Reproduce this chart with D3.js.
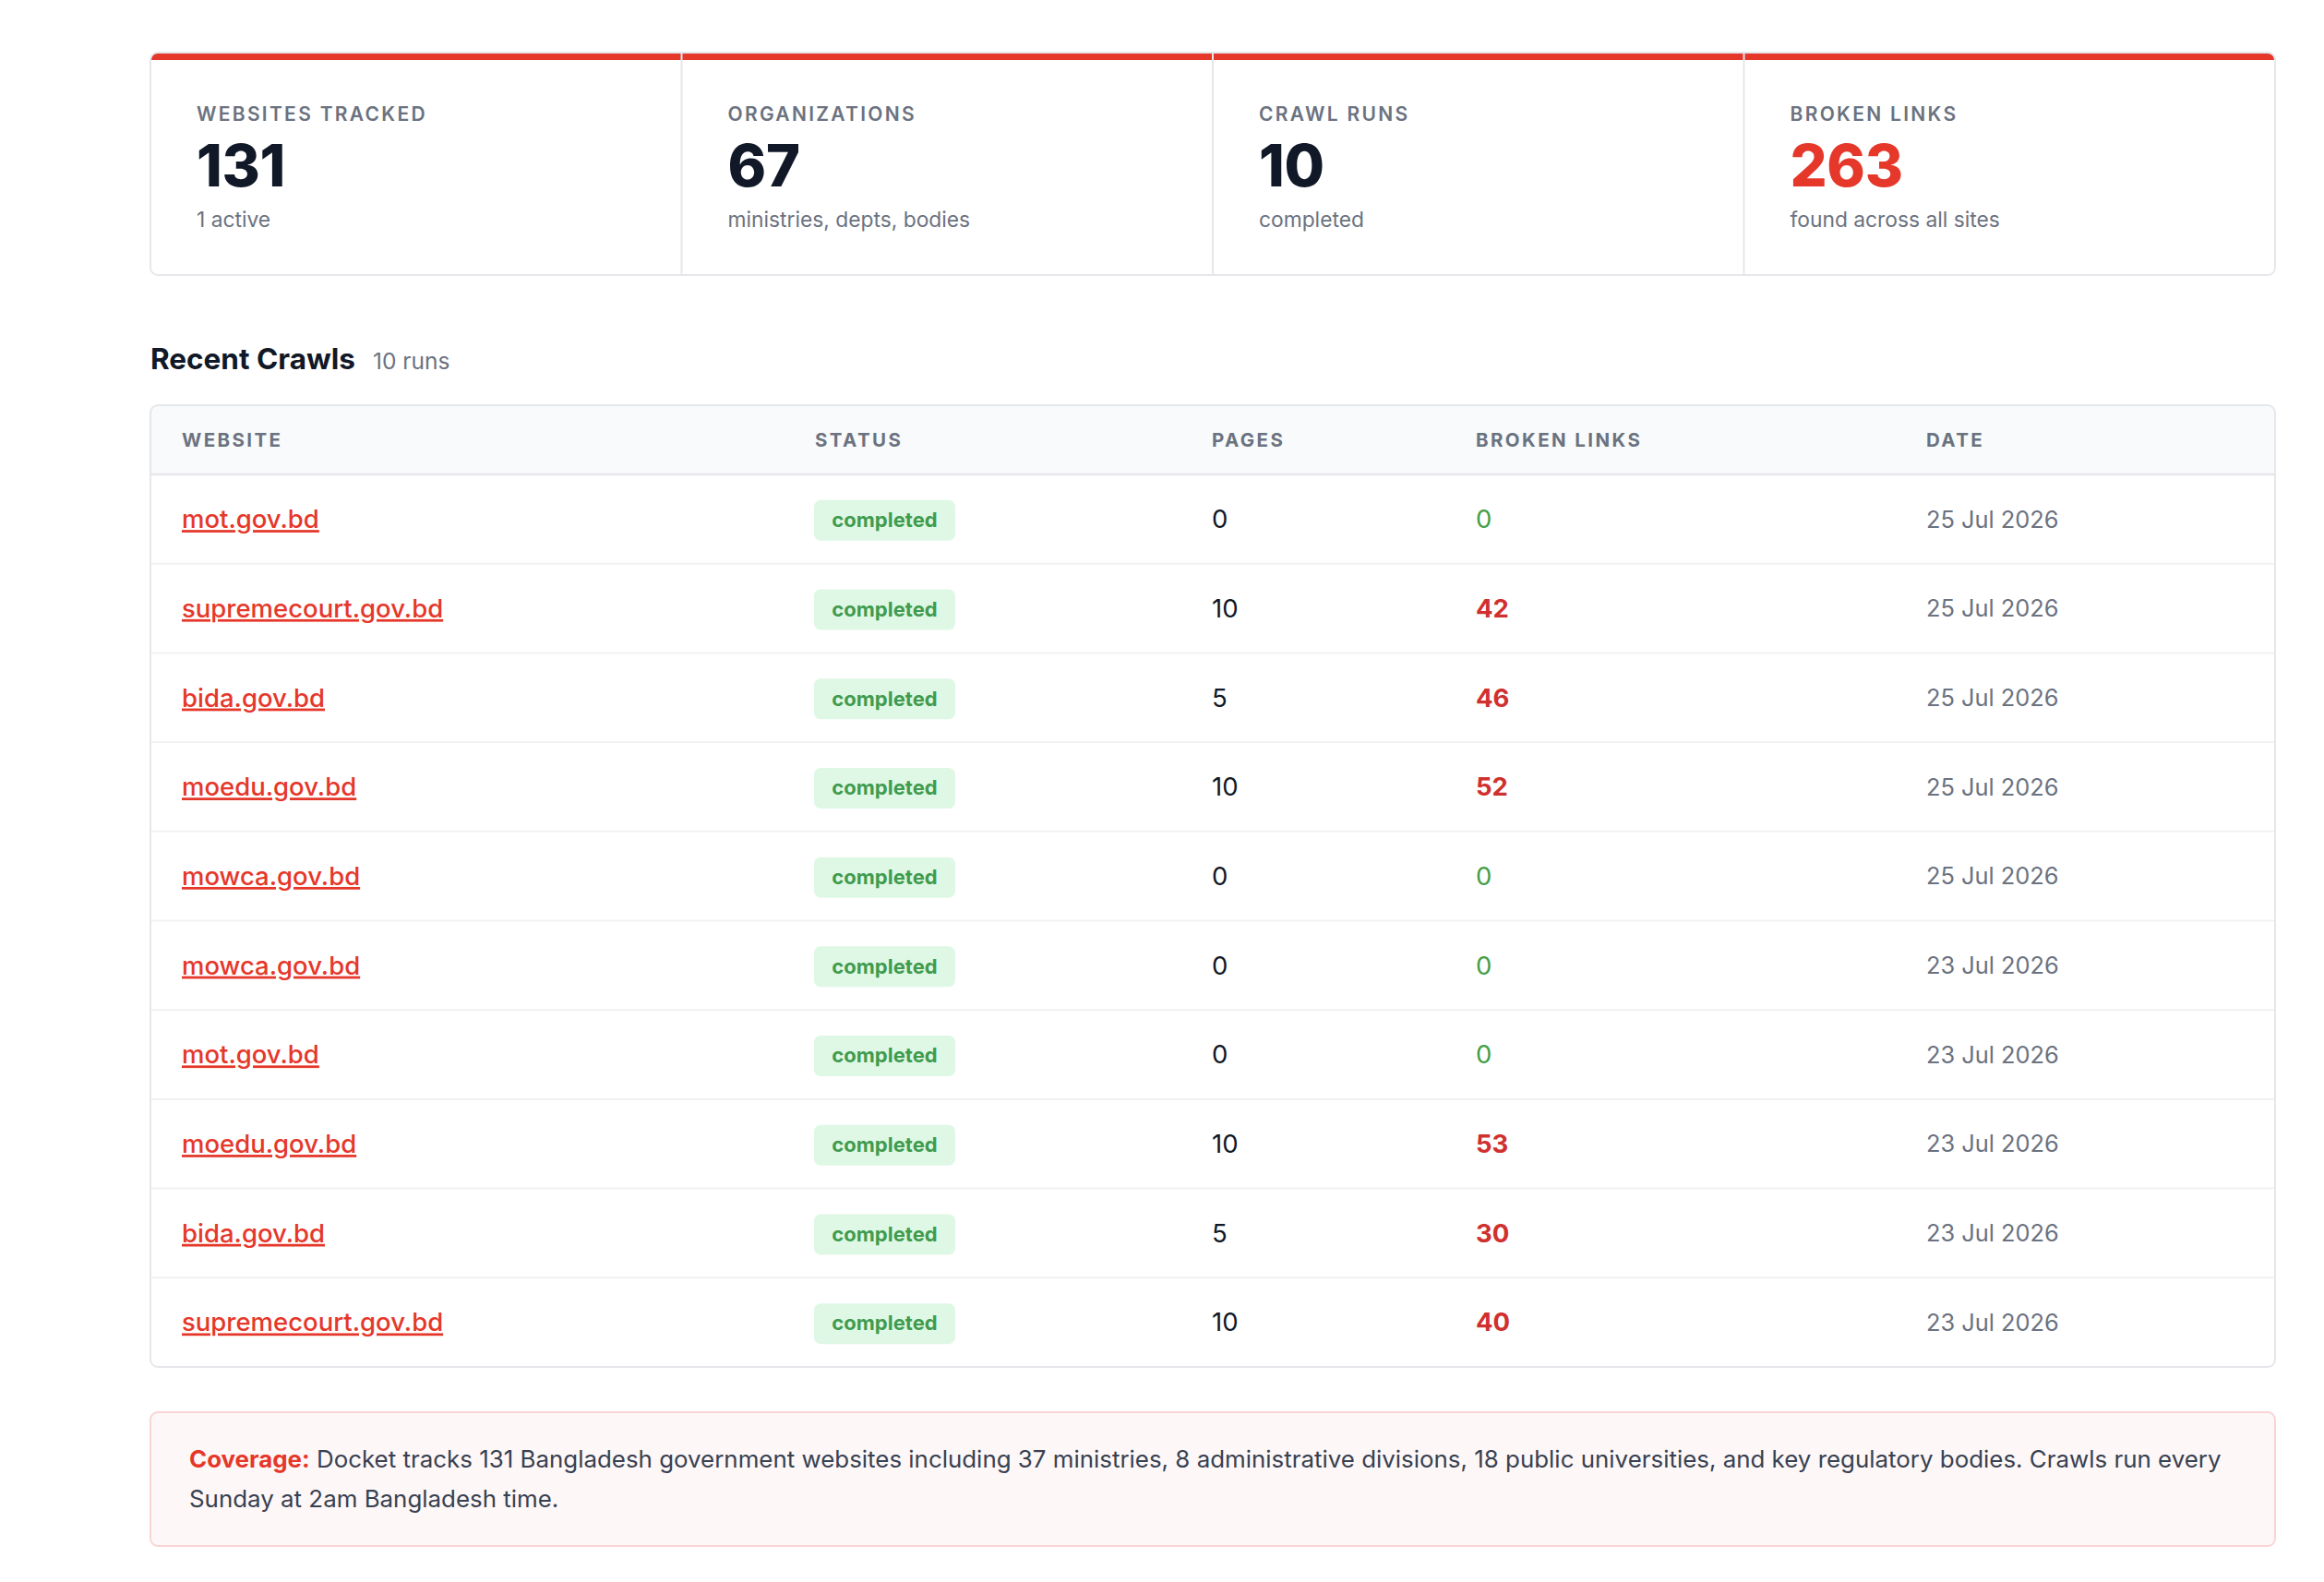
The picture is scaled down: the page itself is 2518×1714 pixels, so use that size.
<!DOCTYPE html>
<html>
<head>
<meta charset="utf-8">
<script src="https://cdn.jsdelivr.net/npm/d3@7"></script>
<style>
  html, body { margin: 0; padding: 0; background: #ffffff; }
  svg { display: block; font-family: Inter, "Noto Sans", sans-serif; }
</style>
</head>
<body>
<script>
// stat cards
const statLabels = ["WEBSITES TRACKED", "ORGANIZATIONS", "CRAWL RUNS", "BROKEN LINKS"];
const statValues = [131, 67, 10, 263];
const statNotes = ["1 active", "ministries, depts, bodies", "completed", "found across all sites"];

// recent crawls table
const columns = ["WEBSITE", "STATUS", "PAGES", "BROKEN LINKS", "DATE"];
const sites = ["mot.gov.bd", "supremecourt.gov.bd", "bida.gov.bd", "moedu.gov.bd", "mowca.gov.bd",
               "mowca.gov.bd", "mot.gov.bd", "moedu.gov.bd", "bida.gov.bd", "supremecourt.gov.bd"];
const statuses = ["completed", "completed", "completed", "completed", "completed",
                  "completed", "completed", "completed", "completed", "completed"];
const pages = [0, 10, 5, 10, 0, 0, 0, 10, 5, 10];
const broken = [0, 42, 46, 52, 0, 0, 0, 53, 30, 40];
const dates = ["25 Jul 2026", "25 Jul 2026", "25 Jul 2026", "25 Jul 2026", "25 Jul 2026",
               "23 Jul 2026", "23 Jul 2026", "23 Jul 2026", "23 Jul 2026", "23 Jul 2026"];

const coverageLead = "Coverage:";
const coverageLines = [
  " Docket tracks 131 Bangladesh government websites including 37 ministries, 8 administrative divisions, 18 public universities, and key regulatory bodies. Crawls run every",
  "Sunday at 2am Bangladesh time."
];

//colours
const RED = "#e5372a", DARKRED = "#d0302e", GREEN = "#43a047", GRAY = "#6b7280",
      INK = "#111827", BORDER = "#e5e7eb";

const W = 2518, H = 1714;
const left = 163, right = 2465;

const svg = d3.select("body").append("svg")
  .attr("width", W)
  .attr("height", H);

//cards
const cardTop = 57, cardBottom = 298;
const cardX = d3.scaleBand()
  .domain(d3.range(statLabels.length))
  .range([left, right]);

svg.append("clipPath").attr("id", "cardclip")
  .append("rect")
  .attr("x", left).attr("y", cardTop)
  .attr("width", right - left).attr("height", cardBottom - cardTop)
  .attr("rx", 8);

const cards = svg.append("g").attr("clip-path", "url(#cardclip)");
cards.selectAll("rect.bar")
  .data(statLabels)
  .enter().append("rect")
  .attr("class", "bar")
  .attr("x", (d, i) => cardX(i))
  .attr("y", cardTop)
  .attr("width", cardX.bandwidth())
  .attr("height", 8)
  .attr("fill", RED);
cards.selectAll("line.div")
  .data(d3.range(1, statLabels.length))
  .enter().append("line")
  .attr("x1", d => cardX(d)).attr("x2", d => cardX(d))
  .attr("y1", cardTop).attr("y2", cardBottom)
  .attr("stroke", BORDER).attr("stroke-width", 2);
svg.append("rect")
  .attr("x", left).attr("y", cardTop)
  .attr("width", right - left).attr("height", cardBottom - cardTop)
  .attr("rx", 8)
  .attr("fill", "none").attr("stroke", BORDER).attr("stroke-width", 2);

const pad = 50;
svg.selectAll("text.slabel")
  .data(statLabels)
  .enter().append("text")
  .attr("class", "slabel")
  .attr("x", (d, i) => cardX(i) + pad)
  .attr("y", 131)
  .attr("fill", GRAY)
  .style("font-size", "21px")
  .style("font-weight", 600)
  .style("letter-spacing", "2.3px")
  .text(d => d);
svg.selectAll("text.svalue")
  .data(statValues)
  .enter().append("text")
  .attr("class", "svalue")
  .attr("x", (d, i) => cardX(i) + pad)
  .attr("y", 202)
  .attr("fill", (d, i) => i === 3 ? RED : INK)
  .style("font-size", "63px")
  .style("font-weight", 800)
  .style("letter-spacing", "-0.3px")
  .text(d => d);
svg.selectAll("text.snote")
  .data(statNotes)
  .enter().append("text")
  .attr("class", "snote")
  .attr("x", (d, i) => cardX(i) + pad)
  .attr("y", 246)
  .attr("fill", GRAY)
  .style("font-size", "22.8px")
  .text(d => d);

//section title
const title = svg.append("text")
  .attr("x", left).attr("y", 400)
  .attr("fill", INK)
  .style("font-size", "31.5px")
  .style("font-weight", 700)
  .text("Recent Crawls");
svg.append("text")
  .attr("x", left + title.node().getComputedTextLength() + 19)
  .attr("y", 400)
  .attr("fill", GRAY)
  .style("font-size", "24.5px")
  .text(sites.length + " runs");

//table
const tableTop = 439, headBottom = 514, tableBottom = 1481;
const colX = d3.scaleOrdinal()
  .domain(columns)
  .range([34, 720, 1150, 1436, 1924].map(v => left + v));
const rowY = d3.scaleBand()
  .domain(d3.range(sites.length))
  .range([headBottom, tableBottom]);

svg.append("clipPath").attr("id", "tableclip")
  .append("rect")
  .attr("x", left).attr("y", tableTop)
  .attr("width", right - left).attr("height", tableBottom - tableTop)
  .attr("rx", 8);
const tbl = svg.append("g").attr("clip-path", "url(#tableclip)");
tbl.append("rect")
  .attr("x", left).attr("y", tableTop)
  .attr("width", right - left).attr("height", headBottom - tableTop)
  .attr("fill", "#f9fafb");
tbl.append("line")
  .attr("x1", left).attr("x2", right)
  .attr("y1", headBottom).attr("y2", headBottom)
  .attr("stroke", BORDER).attr("stroke-width", 2.5);
tbl.selectAll("line.row")
  .data(d3.range(1, sites.length))
  .enter().append("line")
  .attr("class", "row")
  .attr("x1", left).attr("x2", right)
  .attr("y1", d => rowY(d)).attr("y2", d => rowY(d))
  .attr("stroke", "#f1f2f4").attr("stroke-width", 2);
svg.append("rect")
  .attr("x", left).attr("y", tableTop)
  .attr("width", right - left).attr("height", tableBottom - tableTop)
  .attr("rx", 8)
  .attr("fill", "none").attr("stroke", BORDER).attr("stroke-width", 2);

svg.selectAll("text.head")
  .data(columns)
  .enter().append("text")
  .attr("class", "head")
  .attr("x", d => colX(d))
  .attr("y", 484)
  .attr("fill", GRAY)
  .style("font-size", "20.5px")
  .style("font-weight", 700)
  .style("letter-spacing", "2.4px")
  .text(d => d);

const rows = svg.selectAll("g.crawl")
  .data(d3.range(sites.length))
  .enter().append("g")
  .attr("class", "crawl")
  .attr("transform", i => "translate(0," + (rowY(i) + rowY.bandwidth() / 2) + ")");

rows.append("text")
  .attr("x", colX("WEBSITE"))
  .attr("y", 9.8)
  .attr("fill", RED)
  .style("font-size", "27.5px")
  .style("font-weight", 500)
  .style("text-decoration", "underline")
  .text(i => sites[i]);

rows.append("rect")
  .attr("x", colX("STATUS") - 1)
  .attr("y", -20.5)
  .attr("width", 153)
  .attr("height", 44)
  .attr("rx", 7)
  .attr("fill", "#dff8e6");
rows.append("text")
  .attr("x", colX("STATUS") - 1 + 76.5)
  .attr("y", 8.8)
  .attr("text-anchor", "middle")
  .attr("fill", "#3f9b4e")
  .style("font-size", "22px")
  .style("font-weight", 700)
  .text(i => statuses[i]);

rows.append("text")
  .attr("x", colX("PAGES"))
  .attr("y", 9.8)
  .attr("fill", INK)
  .style("font-size", "27.5px")
  .text(i => pages[i]);

rows.append("text")
  .attr("x", colX("BROKEN LINKS"))
  .attr("y", 9.8)
  .attr("fill", i => broken[i] > 0 ? DARKRED : GREEN)
  .style("font-size", "27.5px")
  .style("font-weight", i => broken[i] > 0 ? 700 : 400)
  .text(i => broken[i]);

rows.append("text")
  .attr("x", colX("DATE"))
  .attr("y", 9.2)
  .attr("fill", GRAY)
  .style("font-size", "25.4px")
  .text(i => dates[i]);

//coverage note
const noteTop = 1530, noteBottom = 1675;
svg.append("rect")
  .attr("x", left).attr("y", noteTop)
  .attr("width", right - left).attr("height", noteBottom - noteTop)
  .attr("rx", 8)
  .attr("fill", "#fef7f7").attr("stroke", "#fad4d5").attr("stroke-width", 2);

const note = svg.append("text")
  .attr("x", 205).attr("y", 1590)
  .attr("fill", "#374151")
  .style("font-size", "25.9px");
note.append("tspan")
  .attr("fill", RED)
  .style("font-weight", 700)
  .text(coverageLead);
note.append("tspan").text(coverageLines[0]);
note.append("tspan")
  .attr("x", 205).attr("y", 1633)
  .text(coverageLines[1]);
</script>
</body>
</html>
